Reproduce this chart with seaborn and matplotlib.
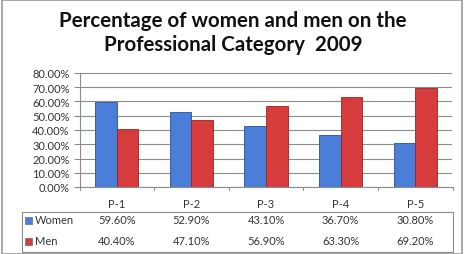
import matplotlib
matplotlib.use("Agg")
import matplotlib.pyplot as plt
import seaborn as sns
import pandas as pd
from matplotlib.patches import Rectangle
from matplotlib.ticker import FuncFormatter, MultipleLocator

categories = ["P-1", "P-2", "P-3", "P-4", "P-5"]
women = [59.6, 52.9, 43.1, 36.7, 30.8]
men = [40.4, 47.1, 56.9, 63.3, 69.2]
series_names = ["Women", "Men"]
title = "Percentage of women and men on the\nProfessional Category  2009"

df = pd.DataFrame({
    "cat": categories * 2,
    "series": [series_names[0]] * len(categories) + [series_names[1]] * len(categories),
    "value": [v / 100 for v in women] + [v / 100 for v in men],
})

sns.set_theme(style="white")
plt.rcParams["font.family"] = ["Lato", "DejaVu Sans"]

W, H = 466, 255
fig = plt.figure(figsize=(W / 100, H / 100), dpi=100)
ax = fig.add_axes([79.5 / W, (H - 188) / H, (452.5 - 79.5) / W, (188 - 74) / H])

colors = {"Women": "#4A7ED8", "Men": "#D63C3C"}
sns.barplot(data=df, x="cat", y="value", hue="series", palette=colors,
            width=0.58, gap=0, ax=ax, legend=False, saturation=1,
            edgecolor="none", zorder=3)
for i, p in enumerate(ax.patches):
    p.set_edgecolor("#2a4f9a" if i < 5 else "#9a2424")
    p.set_linewidth(0.6)

ax.set_ylim(0, 0.8)
ax.set_xlim(-0.5, 4.5)
ax.yaxis.set_major_locator(MultipleLocator(0.1))
ax.yaxis.set_major_formatter(FuncFormatter(lambda v, _: f"{v*100:.2f}%"))
ax.grid(axis="y", color="#8c8c8c", linewidth=0.8, zorder=0)
ax.set_xlabel("")
ax.set_ylabel("")
for s in ["top", "right"]:
    ax.spines[s].set_visible(False)
ax.spines["left"].set_color("#8c8c8c")
ax.spines["bottom"].set_color("#8c8c8c")
ax.spines["left"].set_linewidth(0.8)
ax.spines["bottom"].set_linewidth(0.8)
ax.tick_params(axis="y", left=True, length=4, color="#8c8c8c", width=0.8,
               labelsize=8, labelcolor="#333333", pad=3)
ax.tick_params(axis="x", bottom=False, labelsize=8, labelcolor="#333333", pad=2)

# category boundary ticks
for b in [-0.5, 0.5, 1.5, 2.5, 3.5, 4.5]:
    ax.plot([b, b], [0, -0.03], color="#8c8c8c", lw=0.8, clip_on=False,
            transform=ax.get_xaxis_transform())

# data table
fig.patches.append(Rectangle((22 / W, (H - 253) / H), (452.5 - 22) / W, 40 / H,
                             transform=fig.transFigure, fill=False,
                             edgecolor="#8c8c8c", lw=0.8))
row_y = [(H - 221) / H, (H - 242) / H]
blend = matplotlib.transforms.blended_transform_factory(ax.transData, fig.transFigure)
for name, vals, y in zip(series_names, [women, men], row_y):
    fig.patches.append(Rectangle((25 / W, y - 3.5 / H), 7 / W, 7 / H,
                                 transform=fig.transFigure,
                                 facecolor=colors[name], edgecolor="#555555", lw=0.4))
    fig.text(35 / W, y, name, fontsize=8, color="#333333", va="center", ha="left")
    for i, v in enumerate(vals):
        ax.text(i, y, f"{v:.2f}%", fontsize=8, color="#333333", va="center",
                ha="center", transform=blend)

fig.text(233 / W, (H - 33) / H, title, fontsize=14.8, fontweight="bold",
         ha="center", va="center", color="#111111", linespacing=1.2)

fig.patches.append(Rectangle((1.5 / W, 0.5 / H), (462 - 1.5) / W, (H - 1) / H,
                             transform=fig.transFigure, fill=False,
                             edgecolor="#9a9a9a", lw=1.2))

fig.savefig("out.png", dpi=100, facecolor="white")
